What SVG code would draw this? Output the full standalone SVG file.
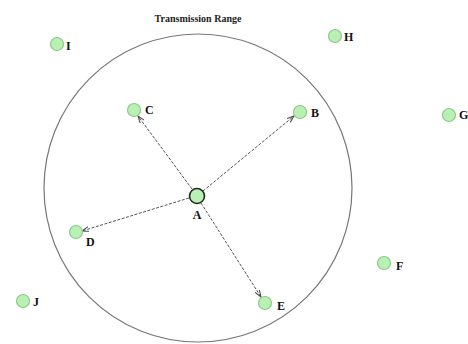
<svg xmlns="http://www.w3.org/2000/svg" width="468" height="344" viewBox="0 0 468 344">
<style>
.n{fill:#b9f0b3;stroke:#8fc98a;stroke-width:1.2}
.a{fill:#b9f0b3;stroke:#1e2a1e;stroke-width:1.6}
.t{font-family:"Liberation Serif","DejaVu Serif","Times New Roman",serif;font-size:12px;font-weight:bold;fill:#111}
.h{font-family:"Liberation Serif","DejaVu Serif","Times New Roman",serif;font-size:10px;font-weight:bold;fill:#222}
.c{stroke:#555;stroke-width:1;stroke-dasharray:3,1.5;fill:none;marker-end:url(#ah)}
</style>
<defs>
<marker id="ah" markerWidth="8" markerHeight="6" refX="7" refY="3" orient="auto" markerUnits="userSpaceOnUse">
<path d="M0,0.5 L7,3 L0,5.5" fill="none" stroke="#444" stroke-width="1"/>
</marker>
</defs>
<rect width="468" height="344" fill="#fff"/>
<g id="range">
<circle cx="198" cy="188" r="154" fill="none" stroke="#777" stroke-width="1.2"/>
<text class="h" x="198" y="22" text-anchor="middle">Transmission Range</text>
</g>
<g id="connectors">
<line class="c" x1="192" y1="189" x2="138" y2="116"/>
<line class="c" x1="203" y1="191" x2="294" y2="116"/>
<line class="c" x1="189" y1="198" x2="82" y2="231"/>
<line class="c" x1="201" y1="203" x2="261" y2="297"/>
</g>
<g id="A"><circle class="a" cx="197" cy="196" r="7.5"/><text class="t" x="197" y="219" text-anchor="middle">A</text></g>
<g id="B"><circle class="n" cx="300" cy="112" r="6.5"/><text class="t" x="311" y="117">B</text></g>
<g id="C"><circle class="n" cx="134" cy="110" r="6.5"/><text class="t" x="145" y="114">C</text></g>
<g id="D"><circle class="n" cx="76" cy="232" r="6.5"/><text class="t" x="86" y="246">D</text></g>
<g id="E"><circle class="n" cx="265" cy="303" r="6.5"/><text class="t" x="277" y="310">E</text></g>
<g id="F"><circle class="n" cx="384" cy="263" r="6.5"/><text class="t" x="396" y="270">F</text></g>
<g id="G"><circle class="n" cx="449" cy="115" r="6.5"/><text class="t" x="459" y="119">G</text></g>
<g id="H"><circle class="n" cx="335" cy="36" r="6.5"/><text class="t" x="344" y="41">H</text></g>
<g id="I"><circle class="n" cx="57" cy="44" r="6.5"/><text class="t" x="66" y="50">I</text></g>
<g id="J"><circle class="n" cx="23" cy="301" r="6.5"/><text class="t" x="33" y="306">J</text></g>
</svg>
